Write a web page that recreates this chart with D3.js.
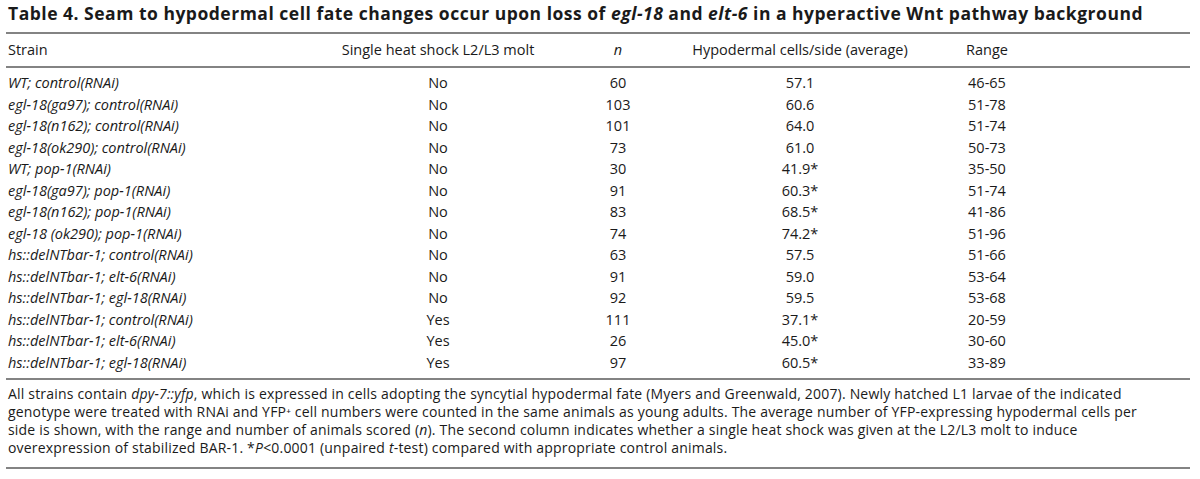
<!DOCTYPE html>
<html>
<head>
<meta charset="utf-8">
<script src="https://cdn.jsdelivr.net/npm/d3@7"></script>
<style>
  body { margin: 0; background: #fff; }
  svg { display: block; font-family: "Open Sans", "Noto Sans", sans-serif; }
</style>
</head>
<body>
<div id="chart"></div>
<script>
const strains = [
  "WT; control(RNAi)",
  "egl-18(ga97); control(RNAi)",
  "egl-18(n162); control(RNAi)",
  "egl-18(ok290); control(RNAi)",
  "WT; pop-1(RNAi)",
  "egl-18(ga97); pop-1(RNAi)",
  "egl-18(n162); pop-1(RNAi)",
  "egl-18 (ok290); pop-1(RNAi)",
  "hs::delNTbar-1; control(RNAi)",
  "hs::delNTbar-1; elt-6(RNAi)",
  "hs::delNTbar-1; egl-18(RNAi)",
  "hs::delNTbar-1; control(RNAi)",
  "hs::delNTbar-1; elt-6(RNAi)",
  "hs::delNTbar-1; egl-18(RNAi)"
];
const heatShock = ["No", "No", "No", "No", "No", "No", "No", "No", "No", "No", "No", "Yes", "Yes", "Yes"];
const nAnimals = [60, 103, 101, 73, 30, 91, 83, 74, 63, 91, 92, 111, 26, 97];
const averages = [57.1, 60.6, 64.0, 61.0, 41.9, 60.3, 68.5, 74.2, 57.5, 59.0, 59.5, 37.1, 45.0, 60.5];
const significant = [false, false, false, false, true, true, true, true, false, false, false, true, true, true];
const ranges = ["46-65", "51-78", "51-74", "50-73", "35-50", "51-74", "41-86", "51-96", "51-66", "53-64", "53-68", "20-59", "30-60", "33-89"];
const headers = ["Strain", "Single heat shock L2/L3 molt", "n", "Hypodermal cells/side (average)", "Range"];

// title and footnote pieces: [text, italic]
const titleParts = [
  ["Table 4. Seam to hypodermal cell fate changes occur upon loss of ", false],
  ["egl-18", true], [" and ", false], ["elt-6", true],
  [" in a hyperactive Wnt pathway background", false]
];
const footLines = [
  [["All strains contain ", false], ["dpy-7::yfp", true], [", which is expressed in cells adopting the syncytial hypodermal fate (Myers and Greenwald, 2007). Newly hatched L1 larvae of the indicated", false]],
  [["genotype were treated with RNAi and YFP\u207A cell numbers were counted in the same animals as young adults. The average number of YFP-expressing hypodermal cells per", false]],
  [["side is shown, with the range and number of animals scored (", false], ["n", true], ["). The second column indicates whether a single heat shock was given at the L2/L3 molt to induce", false]],
  [["overexpression of stabilized BAR-1. *", false], ["P", true], ["<0.0001 (unpaired ", false], ["t", true], ["-test) compared with appropriate control animals.", false]]
];

const width = 1200, height = 479;
const ink = "#1a1a1a", rule = "#5a5a5a";
const left = 8, right = 1190;

const svg = d3.select("#chart").append("svg")
  .attr("width", width).attr("height", height);

// column anchors
const colX = d3.scaleOrdinal()
  .domain(["strain", "heat", "n", "avg", "range"])
  .range([left, 438, 618, 800, 987]);

// row baselines
const y = d3.scalePoint()
  .domain(d3.range(strains.length))
  .range([88, 368]);

function rich(sel, parts) {
  sel.selectAll("tspan").data(parts).join("tspan")
    .style("font-style", d => d[1] ? "italic" : "normal")
    .text(d => d[0]);
}

// stretch letter spacing so a line ends where the printed one does
function fitSpacing(sel, target) {
  const w = sel.node().getComputedTextLength();
  const n = sel.text().length;
  return (target - w) / n;
}

// title
const title = svg.append("text")
  .attr("x", left).attr("y", 20)
  .attr("fill", ink)
  .style("font-size", "17.5px").style("font-weight", 700)
  .call(rich, titleParts);
title.style("letter-spacing", fitSpacing(title, 1143 - left) + "px");

// rules
const rules = [33, 67, 379, 468];
svg.selectAll("line.rule").data(rules).join("line")
  .attr("class", "rule")
  .attr("x1", 6).attr("x2", right)
  .attr("y1", d => d).attr("y2", d => d)
  .attr("stroke", rule).attr("stroke-width", 1.4);

// header
const hdr = svg.append("g").attr("fill", ink).style("font-size", "14.5px");
hdr.selectAll("text").data(headers).join("text")
  .attr("x", (d, i) => colX(colX.domain()[i]))
  .attr("y", 55)
  .attr("text-anchor", (d, i) => i === 0 ? "start" : "middle")
  .style("font-style", d => d === "n" ? "italic" : "normal")
  .text(d => d);

// body rows
const rows = svg.append("g").attr("fill", ink).style("font-size", "14.5px")
  .selectAll("g").data(strains).join("g")
  .attr("transform", (d, i) => `translate(0,${y(i)})`);

rows.append("text").attr("x", colX("strain"))
  .style("font-style", "italic").text(d => d);
rows.append("text").attr("x", colX("heat")).attr("text-anchor", "middle")
  .text((d, i) => heatShock[i]);
rows.append("text").attr("x", colX("n")).attr("text-anchor", "middle")
  .text((d, i) => nAnimals[i]);
rows.append("text").attr("x", colX("avg")).attr("text-anchor", "middle")
  .text((d, i) => d3.format(".1f")(averages[i]) + (significant[i] ? "*" : ""));
rows.append("text").attr("x", colX("range")).attr("text-anchor", "middle")
  .text((d, i) => ranges[i]);

// footnote
const footY = d3.scalePoint().domain(d3.range(footLines.length)).range([399, 453]);
const foot = svg.append("g").attr("fill", ink).style("font-size", "14px")
  .selectAll("text").data(footLines).join("text")
  .attr("x", left).attr("y", (d, i) => footY(i))
  .each(function (d) { d3.select(this).call(rich, d); });
foot.style("letter-spacing", fitSpacing(d3.select(foot.nodes()[1]), 1137 - left) + "px");
</script>
</body>
</html>
